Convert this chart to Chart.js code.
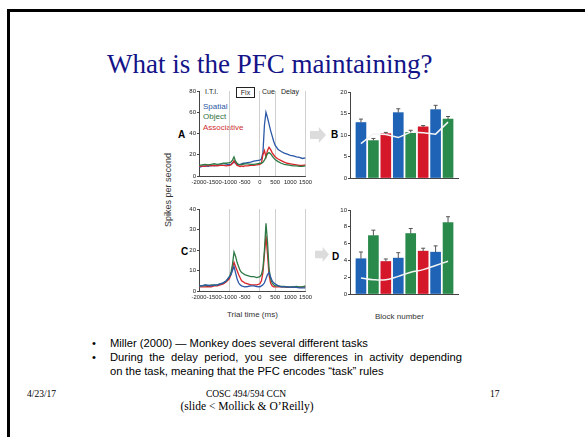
<!DOCTYPE html>
<html>
<head>
<meta charset="utf-8">
<script src="https://cdn.jsdelivr.net/npm/chart.js@4.4.0/dist/chart.umd.min.js"></script>
<style>
  body { margin: 0; width: 585px; height: 437px; overflow: hidden; background: #fff; position: relative;
         font-family: "Liberation Sans", Arial, sans-serif; }
  #frame { position: absolute; left: 7px; top: 9px; width: 640px; height: 500px;
           border-left: 3px solid #000; border-top: 3px solid #000; }
  .t { position: absolute; white-space: nowrap; line-height: 1; }
  .serif { font-family: "Liberation Serif", "Times New Roman", serif; }
  canvas { position: absolute; }
  .arrow { position: absolute; background: #dcdcdc;
           clip-path: polygon(0 25%, 55% 25%, 55% 0, 100% 50%, 55% 100%, 55% 75%, 0 75%); }
  .bul { position: absolute; font-size: 11.2px; line-height: 14px; white-space: nowrap; }
</style>
</head>
<body>
<div id="frame"></div>

<div class="t serif" style="left:107px;top:51px;font-size:27px;color:#141488;">What is the PFC maintaining?</div>

<!-- figure labels -->
<div class="t" style="left:205px;top:88px;font-size:7px;color:#222;">I.T.I.</div>
<div class="t" style="left:236px;top:87px;width:17px;height:9px;border:1px solid #222;font-size:7px;color:#222;text-align:center;line-height:9px;">Fix</div>
<div class="t" style="left:262px;top:88px;font-size:7px;color:#222;">Cue</div>
<div class="t" style="left:281px;top:88px;font-size:7px;color:#222;">Delay</div>
<div class="t" style="left:203px;top:103px;font-size:8px;color:#2d5aa5;">Spatial</div>
<div class="t" style="left:203px;top:113px;font-size:8px;color:#2f7040;">Object</div>
<div class="t" style="left:203px;top:124px;font-size:8px;color:#d03030;">Associative</div>
<div class="t" style="left:178px;top:130px;font-size:10px;font-weight:bold;">A</div>
<div class="t" style="left:331px;top:130px;font-size:10px;font-weight:bold;">B</div>
<div class="t" style="left:181px;top:247px;font-size:10px;font-weight:bold;">C</div>
<div class="t" style="left:332px;top:252px;font-size:10px;font-weight:bold;">D</div>
<div class="t" style="left:168px;top:190px;font-size:9px;color:#333;transform:translate(-50%,-50%) rotate(-90deg);">Spikes per second</div>
<div class="t" style="left:227px;top:311px;font-size:8px;color:#333;">Trial time (ms)</div>
<div class="t" style="left:375px;top:313px;font-size:8px;color:#333;">Block number</div>
<div class="arrow" style="left:310px;top:127px;width:16px;height:16px;"></div>
<div class="arrow" style="left:315px;top:247px;width:14px;height:15px;"></div>

<canvas id="chartA" width="140" height="105" style="left:175px;top:85px;"></canvas>
<canvas id="chartC" width="140" height="102" style="left:175px;top:203px;"></canvas>
<canvas id="chartB" width="140" height="104" style="left:322px;top:86px;"></canvas>
<canvas id="chartD" width="140" height="102" style="left:322px;top:204px;"></canvas>

<!-- bullets -->
<div class="bul" style="left:92px;top:336px;">•</div>
<div class="bul" style="left:110px;top:336px;">Miller (2000) — Monkey does several different tasks</div>
<div class="bul" style="left:92px;top:350px;">•</div>
<div class="bul" style="left:110px;top:350px;width:352px;text-align:justify;text-align-last:justify;">During the delay period, you see differences in activity depending</div>
<div class="bul" style="left:110px;top:364px;">on the task, meaning that the PFC encodes “task” rules</div>

<!-- footer -->
<div class="t serif" style="left:27px;top:390px;font-size:9.5px;">4/23/17</div>
<div class="t serif" style="left:246px;top:390px;font-size:9.5px;transform:translateX(-50%);">COSC 494/594 CCN</div>
<div class="t serif" style="left:490px;top:390px;font-size:9.5px;">17</div>
<div class="t serif" style="left:247px;top:401px;font-size:11.5px;transform:translateX(-50%);">(slide &lt; Mollick &amp; O’Reilly)</div>

<script>
// trial time (ms) sample points for panels A and C
const times = [-2000,-1900,-1800,-1700,-1600,-1500,-1400,-1300,-1200,-1100,
  -1000,-950,-900,-850,-800,-750,-700,-650,-600,-550,-500,
  -400,-300,-200,-100,
  0,50,100,150,200,250,300,350,400,450,500,550,600,
  700,800,900,1000,1100,1200,1300,1400,1500];
const timeTicks = [-2000,-1500,-1000,-500,0,500,1000,1500];
const epochLines = [-1000,0,500,1500];

// panel A (spikes/s)
const aSpatial = [8,9,9.5,9,10,9.5,10,10.5,10,10.5,
  11,11,12,13,12,11,10.5,11,11.5,12,12,
  12.5,13,14,14.5,
  15,16,22,48,60,55,49,43,38,33,29,27,25,
  23,21.5,20.5,19.5,19,18,17.5,16.5,17];
const aObject = [10,10.5,11,10.5,11,11.5,11,11.5,12,12,
  12.5,13,15,18,14,12,11,10.5,11,11,11.5,
  11.5,11,11,11.5,
  12,12,13,15,18,21,22,21,19,17,15.5,14.5,13.5,
  12,11,10.5,10,9.5,9.5,9,9,9.5];
const aAssoc = [9,9.5,9,10,9.5,10,9.5,10,10,9.5,
  10,10.5,12,14.5,12,10,9.5,9,9.5,9,9.5,
  9.5,10,10,10.5,
  11,12,20,24,18,24,27,25,22,20,18,17,16,
  14.5,13,12,11.5,11,10.5,10,10,10.5];
const aTicks = [0,20,40,60,80];

// panel C (spikes/s)
const cSpatial = [2.5,2.5,3,2.8,2.5,3,3,3.5,4,5,
  7,8,10,12,9,6,4,3,2.5,2.2,2,
  2.2,2.5,2.5,2.2,
  2,2.5,3,4,6,8,9,7,5,4,3.5,3,2.5,
  2,2,2,1.8,2,1.8,1.5,1.5,1.5];
const cObject = [2.5,2.5,2.8,2.5,3,2.8,3,3.5,4,5,
  7,9,13,19,17,14,12,10,9,8.5,8,
  7.5,7,7,6.5,
  7,8,11,20,33,24,11,6,4,3,2.5,2.5,2.5,
  2.2,2.2,2,2,2,2.2,2,2,2.5];
const cAssoc = [2,2,2,2.2,2,2.5,2.5,3,3.5,4.5,
  6,8,11,14,12,10,8,6.5,5,4.5,4,
  3.5,3,3,3,
  3.5,5,9,18,27,18,8,4,2.5,2,2,2,2,
  2,2,1.8,1.8,2,1.8,1.8,2,2];
const cTicks = [0,10,20,30,40];

// panels B and D
const blocks = [1,2,3,4,5,6,7,8];
const blockTask = ['spatial','object','assoc','spatial','object','assoc','spatial','object'];
const bValues = [12.9,8.7,10.3,15.2,10.6,11.9,15.9,13.7];
const bErrors = [0.8,0.5,0.3,0.9,0.5,0.3,1.0,0.6];
const bTrend = [8.0,10.3,10.1,9.4,10.7,10.5,10.2,13.0];
const bTicks = [0,5,10,15,20];
const dValues = [4.2,6.95,3.87,4.27,7.2,5.1,4.98,8.5];
const dErrors = [0.8,0.65,0.3,0.65,0.6,0.35,0.75,0.7];
const dTrend = [1.9,1.7,1.7,2.1,2.6,2.9,3.4,3.9];
const dTicks = [0,2,4,6,8,10];

const lineColors = { spatial: '#2b58a6', object: '#2e7a46', assoc: '#d8262a' };
const barColors = { spatial: '#1f63b6', object: '#2a8a4c', assoc: '#d4182a' };
const tickFont = { family: 'Liberation Sans', size: 6 };
const plain = v => String(v);

function fixedTicks(list) {
  return axis => { axis.ticks = list.map(v => ({ value: v })); };
}

function lineChart(id, series, yTicks) {
  new Chart(document.getElementById(id), {
    type: 'line',
    data: {
      datasets: series.map(s => ({
        data: times.map((t, i) => ({ x: t, y: s.values[i] })),
        borderColor: lineColors[s.task],
        borderWidth: 1.3,
        pointRadius: 0,
        tension: 0
      }))
    },
    options: {
      responsive: false, animation: false, events: [],
      layout: { padding: { top: 6, right: 8 } },
      plugins: { legend: { display: false }, tooltip: { enabled: false } },
      scales: {
        x: {
          type: 'linear', min: -2000, max: 1500,
          afterBuildTicks: fixedTicks(timeTicks),
          afterFit: ax => { ax.height = 14; },
          grid: { color: c => epochLines.includes(c.tick && c.tick.value) ? '#c4c4c4' : 'rgba(0,0,0,0)',
                  lineWidth: 0.8, drawTicks: false },
          border: { color: '#444', width: 1 },
          ticks: { font: { family: 'Liberation Sans', size: 5.8 }, color: '#222', maxRotation: 0,
                   autoSkip: false, padding: 3, callback: plain }
        },
        y: {
          min: yTicks[0], max: yTicks[yTicks.length - 1],
          afterBuildTicks: fixedTicks(yTicks),
          afterFit: ax => { ax.width = 24; },
          grid: { drawOnChartArea: false, tickLength: 2, color: '#444' },
          border: { color: '#444', width: 1 },
          ticks: { font: tickFont, color: '#222', padding: 1, callback: plain }
        }
      }
    }
  });
}

const errorBars = {
  id: 'errorBars',
  afterDatasetsDraw(chart, args, opts) {
    const meta = chart.getDatasetMeta(1);
    const y = chart.scales.y;
    const ctx = chart.ctx;
    ctx.save();
    ctx.strokeStyle = '#555';
    ctx.lineWidth = 1;
    meta.data.forEach((bar, i) => {
      const top = y.getPixelForValue(opts.values[i] + opts.errors[i]);
      ctx.beginPath();
      ctx.moveTo(bar.x, bar.y);
      ctx.lineTo(bar.x, top);
      ctx.moveTo(bar.x - 2, top);
      ctx.lineTo(bar.x + 2, top);
      ctx.stroke();
    });
    ctx.restore();
  }
};

function barChart(id, values, errors, trend, yTicks, tension) {
  new Chart(document.getElementById(id), {
    type: 'bar',
    data: {
      datasets: [{
        type: 'line',
        data: blocks.map((b, i) => ({ x: b, y: trend[i] })),
        borderColor: '#f4f4f4', borderWidth: 1.5, pointRadius: 0, tension: tension, order: 0
      }, {
        data: blocks.map((b, i) => ({ x: b, y: values[i] })),
        backgroundColor: blockTask.map(t => barColors[t]),
        barThickness: 10, order: 1
      }]
    },
    options: {
      responsive: false, animation: false, events: [],
      layout: { padding: { top: 6, right: 4 } },
      plugins: { legend: { display: false }, tooltip: { enabled: false },
                 errorBars: { values: values, errors: errors } },
      scales: {
        x: {
          type: 'linear', min: 0.12, max: 8.8, offset: false,
          afterBuildTicks: fixedTicks(blocks),
          afterFit: ax => { ax.height = 12; },
          grid: { display: false },
          border: { color: '#444', width: 1 },
          ticks: { font: tickFont, color: '#222', maxRotation: 0, autoSkip: false, padding: 3, callback: plain }
        },
        y: {
          min: yTicks[0], max: yTicks[yTicks.length - 1],
          afterBuildTicks: fixedTicks(yTicks),
          afterFit: ax => { ax.width = 28; },
          grid: { drawOnChartArea: false, tickLength: 2, color: '#444' },
          border: { color: '#444', width: 1 },
          ticks: { font: tickFont, color: '#222', padding: 1, callback: plain }
        }
      }
    },
    plugins: [errorBars]
  });
}

lineChart('chartA', [
  { task: 'object', values: aObject },
  { task: 'assoc', values: aAssoc },
  { task: 'spatial', values: aSpatial }
], aTicks);
lineChart('chartC', [
  { task: 'spatial', values: cSpatial },
  { task: 'object', values: cObject },
  { task: 'assoc', values: cAssoc }
], cTicks);
barChart('chartB', bValues, bErrors, bTrend, bTicks, 0);
barChart('chartD', dValues, dErrors, dTrend, dTicks, 0.4);
</script>
</body>
</html>
